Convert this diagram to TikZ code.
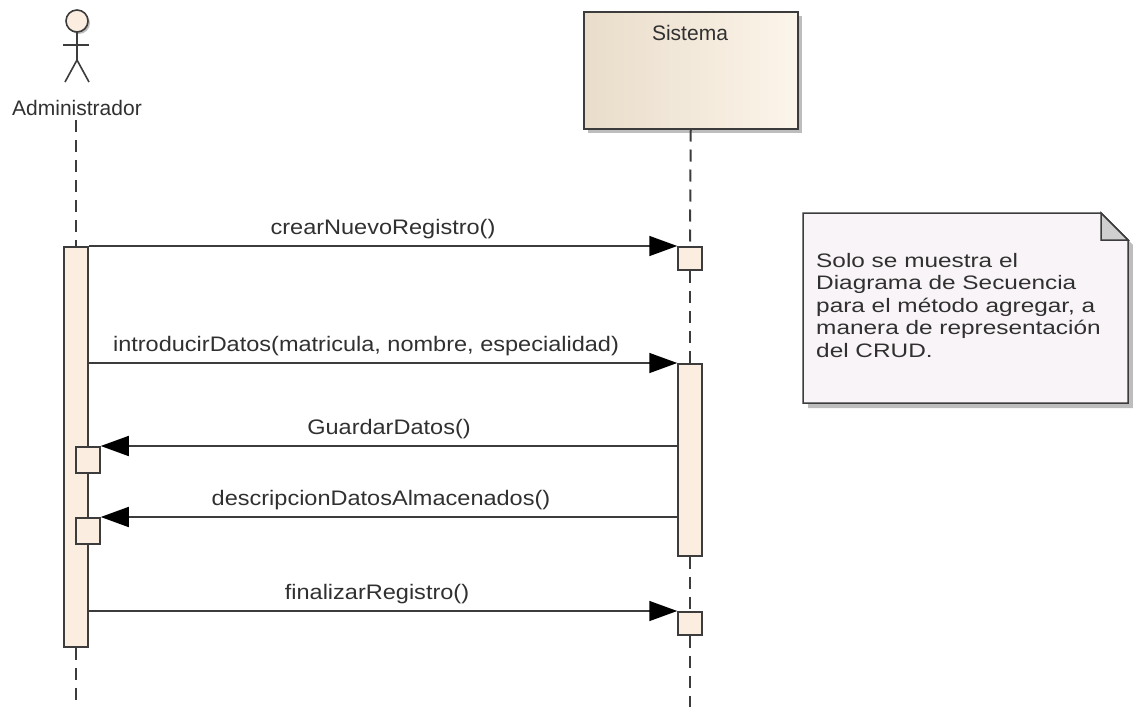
\documentclass[tikz,border=0pt]{standalone}
\usepackage{xcolor}
\usepackage{fontspec}
\setmainfont{Liberation Sans}
\newfontfamily\msgfont{Liberation Sans}[FakeStretch=1.12]
\newfontfamily\notefont{Liberation Sans}[FakeStretch=1.25]
\usepackage{tikz}
\usetikzlibrary{arrows.meta}

\definecolor{lineclr}{HTML}{3C3C3C}
\definecolor{txtclr}{HTML}{303030}
\definecolor{barfill}{HTML}{FBEEE0}
\definecolor{notefill}{HTML}{F8F4F7}
\definecolor{foldfill}{HTML}{CFCFCF}
\definecolor{shadowclr}{HTML}{BDBDBD}
\definecolor{sisleft}{HTML}{E9DCCA}
\definecolor{sisright}{HTML}{FCF5EA}

\tikzset{
  bar/.style={draw=lineclr, fill=barfill, line width=1.5pt, minimum width=24pt, inner sep=0pt},
  lifeline/.style={draw=lineclr, line width=2pt, dash pattern=on 12pt off 8pt},
  msg/.style={draw=lineclr, line width=1.6pt, -{Triangle[length=28pt,width=20pt,black]}},
  lbl/.style={text=txtclr, font=\msgfont\fontsize{21}{25}\selectfont, anchor=base, yshift=11.5pt},
  headtxt/.style={text=txtclr, font=\fontsize{21}{25}\selectfont, anchor=base, inner sep=0pt}
}

\begin{document}
\begin{tikzpicture}[x=1pt, y=-1pt]
            \useasboundingbox (0,0) rectangle (1133,707);

            % actor
            \fill[shadowclr] (79,23) circle (11);
            \draw[lineclr, line width=1.6pt, fill=barfill] (77,21) circle (11);
            \draw[lineclr, line width=1.6pt] (77,32) -- (77,60);
            \draw[lineclr, line width=1.6pt] (63,45) -- (89,45);
            \draw[lineclr, line width=1.6pt] (65,82) -- (77,60) -- (89,82);
            \node[headtxt] (admname) at (77,115) {Administrador};

            % Sistema
            \fill[shadowclr] (588,16) rectangle (802,133);
            \node[draw=lineclr, line width=1.5pt, left color=sisleft, right color=sisright,
                  minimum width=214pt, minimum height=117pt, inner sep=0pt, anchor=north west] (sis) at (583,11) {};
            \node[headtxt] (sisname) at (690,40) {Sistema};

            % activation bars
            \node[bar, minimum height=400pt, anchor=north] (a0) at (76,246) {};
            \node[bar, minimum height=26pt, anchor=north] (a1) at (88,446) {};
            \node[bar, minimum height=26pt, anchor=north] (a2) at (88,517) {};
            \node[bar, minimum height=23pt, anchor=north] (s1) at (690,246) {};
            \node[bar, minimum height=192pt, anchor=north] (s2) at (690,363) {};
            \node[bar, minimum height=23pt, anchor=north] (s3) at (690,611) {};

            % lifelines
            \coordinate (admtop) at (76,120);
            \coordinate (admend) at (76,707);
            \coordinate (sisend) at (690,707);
            \draw[lifeline] (admtop) -- (a0.north);
            \draw[lifeline] (a0.south) -- (admend);
            \draw[lifeline] (sis.south) -- (s1.north);
            \draw[lifeline] (s1.south) -- (s2.north);
            \draw[lifeline] (s2.south) -- (s3.north);
            \draw[lifeline] (s3.south) -- (sisend);

            % messages
            \draw[msg] (a0.north east) -- node[lbl] {crearNuevoRegistro()} (s1.north west);
            \draw[msg] (a0.east |- s2.north) -- node[lbl, xshift=-17pt] {introducirDatos(matricula, nombre, especialidad)} (s2.north west);
            \draw[msg] (s2.west |- a1.north) -- node[lbl] {GuardarDatos()} (a1.north east);
            \draw[msg] (s2.west |- a2.north) -- node[lbl, xshift=-8pt] {descripcionDatosAlmacenados()} (a2.north east);
            \draw[msg] (a0.east |- s3.north) -- node[lbl, xshift=-6pt] {finalizarRegistro()} (s3.north west);

            % note
            \fill[shadowclr] (808,218) -- (1106,218) -- (1133,245) -- (1133,408) -- (808,408) -- cycle;
            \draw[lineclr, line width=1.5pt, fill=notefill] (803,213) -- (1101,213) -- (1128,240) -- (1128,403) -- (803,403) -- cycle;
            \draw[lineclr, line width=1.5pt, fill=foldfill] (1101,213) -- (1101,240) -- (1128,240) -- cycle;
            \node[text=txtclr, font=\notefont\fontsize{19.5}{22.5}\selectfont, align=left, inner sep=0pt, anchor=north west] (note) at (816,253)
                {Solo se muestra el\\Diagrama de Secuencia\\para el método agregar, a\\manera de representación\\del CRUD.};

            \end{tikzpicture}
\end{document}
